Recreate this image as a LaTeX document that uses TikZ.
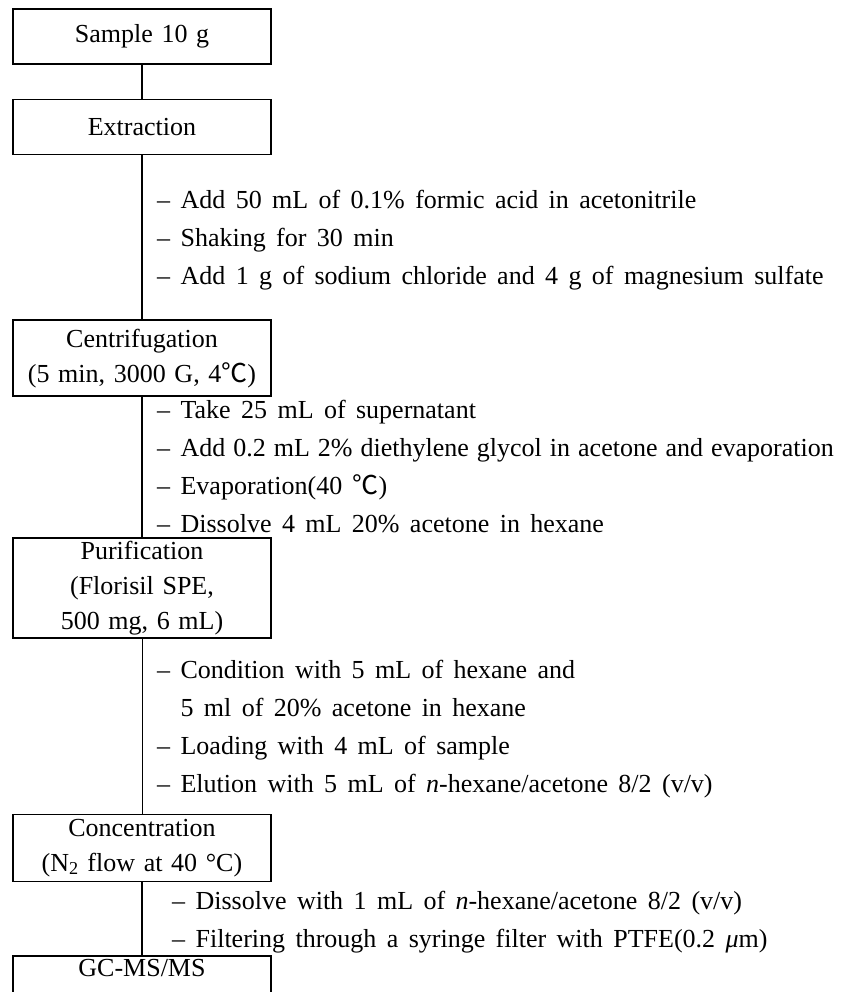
\documentclass[tikz,border=0pt]{standalone}
\usepackage{fontspec}
\setmainfont[WordSpace=1.6]{Liberation Serif}
\newfontfamily\cjk{Noto Sans CJK SC}
\usetikzlibrary{positioning, calc}
\newcommand{\celsius}{{\cjk ℃}}

\begin{document}
\begin{tikzpicture}[
  x=1pt, y=1pt,
  box/.style = {
    rectangle, draw, line width=1.6pt,
    minimum width=258pt, text width=250pt, align=center,
    inner sep=0pt, font=\fontsize{26}{35}\selectfont
  },
  link/.style = {line width=1.6pt},
  steps/.style = {align=left, inner sep=0pt, anchor=west, yshift=-3pt,
    font=\fontsize{26}{38}\selectfont}
]
  \useasboundingbox (0,0) rectangle (848,992);

  \node[box, minimum height=55pt] (sample) at (142,955.5) {Sample 10 g};
  \node[box, minimum height=55pt, below=34pt of sample] (extract) {Extraction};
  \node[box, minimum height=76pt, below=164pt of extract] (centri)
    {Centrifugation\\(5 min, 3000 G, 4\celsius)};
  \node[box, minimum height=100pt, below=140pt of centri] (purif)
    {Purification\\(Florisil SPE,\\500 mg, 6 mL)};
  \node[box, minimum height=67pt, below=175pt of purif] (conc)
    {Concentration\\(N\textsubscript{2} flow at 40 °C)};
  \node[box, below=73pt of conc, text height=20pt, text depth=70pt] (gcms)
    {GC-MS/MS};

  \draw[link] (sample) -- (extract);
  \draw[link] (extract) -- (centri);
  \draw[link] (centri) -- (purif);
  \draw[line width=0.8pt] (purif) -- (conc);
  \draw[link] (conc) -- (gcms);

  % conditions between the steps
  \path (extract.south) -- (centri.north) node[midway, steps, xshift=15pt] (extsteps)
    {– Add 50 mL of 0.1\% formic acid in acetonitrile\\
     – Shaking for 30 min\\
     – Add 1 g of sodium chloride and 4 g of magnesium sulfate};
  \path (centri.south) -- (purif.north) node[midway, steps, xshift=15pt, yshift=3pt] (censteps)
    {– Take 25 mL of supernatant\\
     – {\spaceskip=8pt Add 0.2 mL 2\% diethylene glycol in acetone and evaporation}\\
     – Evaporation(40 \celsius)\\
     – Dissolve 4 mL 20\% acetone in hexane};
  \path (purif.south) -- (conc.north) node[midway, steps, xshift=15pt] (pursteps)
    {– Condition with 5 mL of hexane and\\
     \phantom{– }5 ml of 20\% acetone in hexane\\
     – Loading with 4 mL of sample\\
     – Elution with 5 mL of \textit{n}-hexane/acetone 8/2 (v/v)};
  \path (conc.south) -- (gcms.north) node[midway, steps, xshift=30pt] (consteps)
    {– Dissolve with 1 mL of \textit{n}-hexane/acetone 8/2 (v/v)\\
     – Filtering through a syringe filter with PTFE(0.2 \textit{μ}m)};
\end{tikzpicture}
\end{document}
